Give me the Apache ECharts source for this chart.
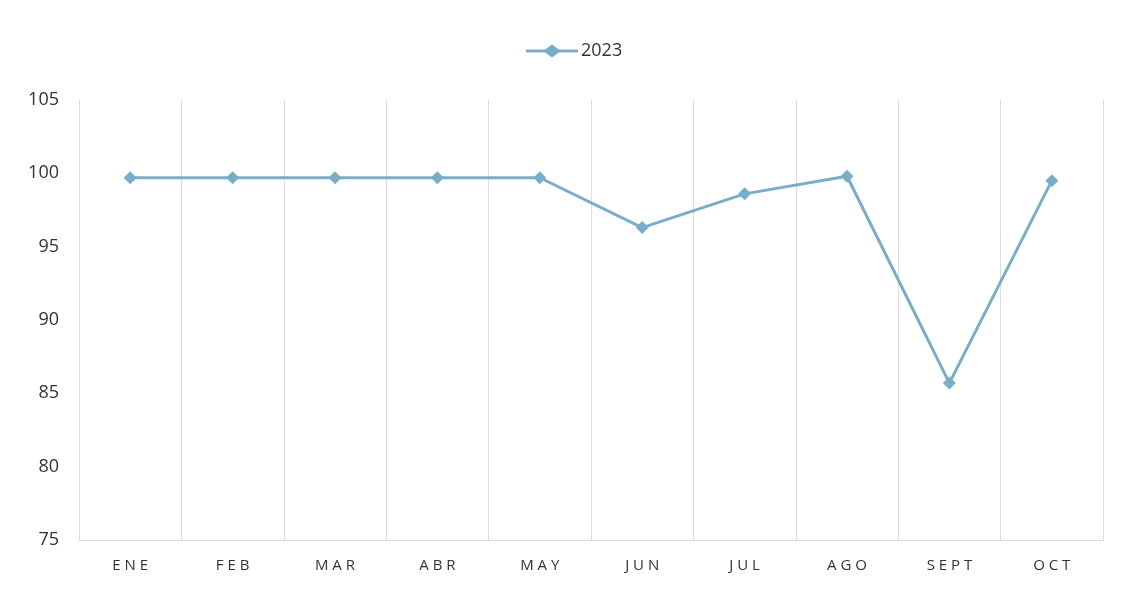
<!DOCTYPE html>
<html>
<head>
<meta charset="utf-8">
<script src="https://cdn.jsdelivr.net/npm/echarts@6/dist/echarts.min.js"></script>
<style>
  html, body { margin: 0; padding: 0; background: #fff; }
  #chart { width: 1122px; height: 589px; }
</style>
</head>
<body>
<div id="chart"></div>
<script>
const months = ['ENE', 'FEB', 'MAR', 'ABR', 'MAY', 'JUN', 'JUL', 'AGO', 'SEPT', 'OCT'];
const values2023 = [99.7, 99.7, 99.7, 99.7, 99.7, 96.3, 98.6, 99.8, 85.7, 99.5];
const seriesName = '2023';

const chart = echarts.init(document.getElementById('chart'));
const lineColor = '#7aaec8';

// line with a diamond in the middle, like the spreadsheet legend
const legendIcon = 'path://M0,5L19,5L26,0L33,5L52,5L52,8L33,8L26,13L19,8L0,8Z';

chart.setOption({
  animation: false,
  textStyle: { fontFamily: 'Open Sans, Noto Sans, sans-serif' },
  legend: {
    top: 37,
    left: 521,
    itemWidth: 52,
    itemHeight: 13,
    itemGap: 3,
    textStyle: { fontSize: 18, color: '#333', padding: [0, 0, 0, -2] },
    data: [{ name: seriesName, icon: legendIcon }]
  },
  grid: { left: 79, right: 19, top: 100, bottom: 49 },
  xAxis: {
    type: 'category',
    data: months,
    boundaryGap: true,
    axisLine: { show: true, lineStyle: { color: '#d9d9d9', width: 1 } },
    axisTick: { show: false },
    axisLabel: {
      fontSize: 15,
      color: '#333',
      margin: 18,
      formatter: v => v.split('').join(' ')
    },
    splitLine: { show: true, lineStyle: { color: '#dcdcdc', width: 1 } }
  },
  yAxis: {
    type: 'value',
    min: 75,
    max: 105,
    interval: 5,
    axisLine: { show: false },
    axisTick: { show: false },
    axisLabel: { fontSize: 18, color: '#333', margin: 20 },
    splitLine: { show: false }
  },
  series: [{
    name: seriesName,
    type: 'line',
    data: values2023,
    symbol: 'diamond',
    symbolSize: 13,
    lineStyle: { color: lineColor, width: 3 },
    itemStyle: { color: lineColor }
  }]
});
</script>
</body>
</html>
